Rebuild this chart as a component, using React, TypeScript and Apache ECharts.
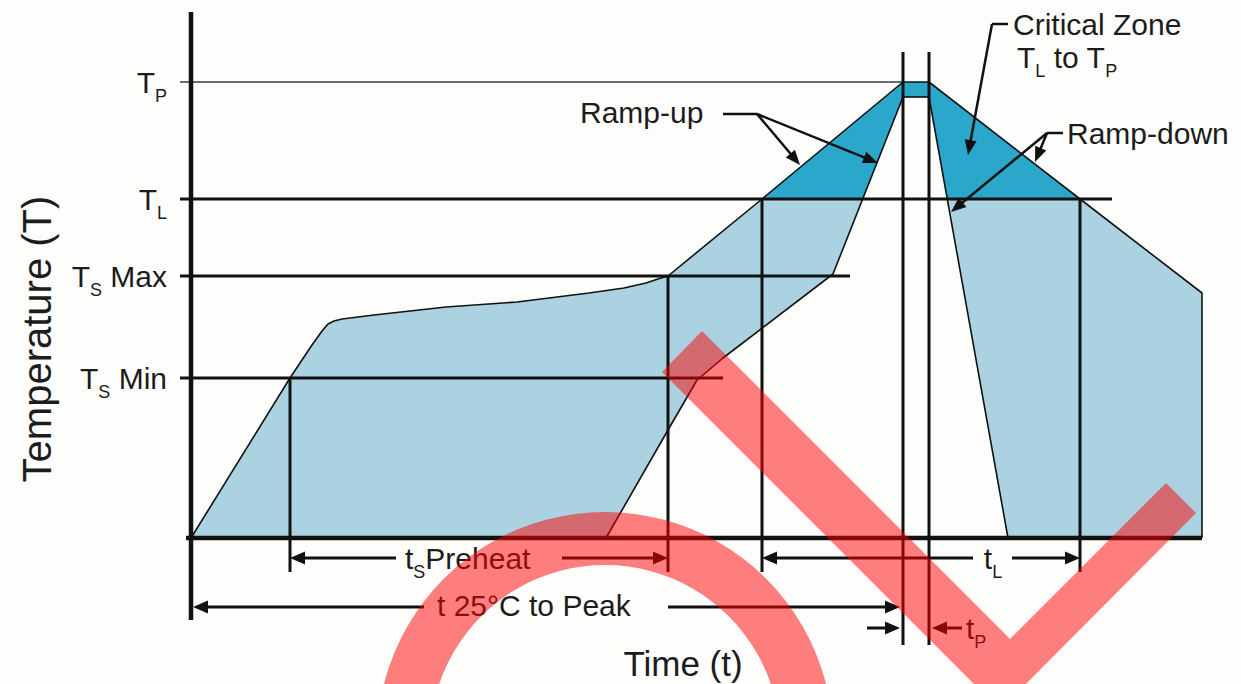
import React, { useEffect, useRef } from "react";
import * as echarts from "echarts";

const FONT = '"Liberation Sans", Arial, Helvetica, sans-serif';
const INK = "#111111";
const TEXT = "#1c1c1c";
const LIGHT = "#abd2e0";
const DARK = "#2aa7cb";
const RED = "rgba(255, 0, 0, 0.5)";
const BG = "#fdfdfb";

// ---------- data: x = time units from the start, y = temperature units above the base line ----------
const levelValues = [456, 339, 262, 160]; // T_P, T_L, T_S max, T_S min
const levelLabels = ["{m|T}{s|P}", "{m|T}{s|L}", "{m|T}{s|S}{m| Max}", "{m|T}{s|S}{m| Min}"];
const levelLineStart = -11;
const levelLineEnds = [712, 921, 659, 532];

const outerProfile = [
  [0, 0], [99, 160], [121, 193], [131, 207], [137, 214], [143, 217], [151, 219], [183, 223],
  [255, 231], [326, 236], [398, 245], [433, 250], [455, 255], [467, 259], [477, 262],
  [571, 339], [712, 456], [738, 456], [889, 339], [1011, 245], [1011, 0],
];
const innerLeftProfile = [[712, 441], [642, 264], [532, 180], [506, 158], [477, 108], [415, 0]];
const innerRightProfile = [[738, 441], [817, 0]];
const peakInnerEdge = [[712, 441], [738, 441]];
const criticalZone = [
  [571, 339], [712, 456], [738, 456], [889, 339], [756, 339], [738, 441], [712, 441], [672, 339],
];

const phaseMarkers = [[99, 160], [477, 262], [571, 339], [889, 339]]; // [time, top temperature]
const phaseMarkerBottom = -34;
const peakMarkers = [712, 738];
const peakMarkerTop = 486;
const peakMarkerBottom = -107;

const temperatureAxisLine = [0, 526, 0, -82];
const timeAxisLine = [-5, 0, 1011, 0];

// [fromTime, fromTemp, toTime, toTemp]  (arrow head at "to")
const dimensionArrows = [
  [205, -20, 99, -20], [371, -20, 477, -20],
  [782, -20, 571, -20], [821, -20, 889, -20],
  [233, -69, 2, -69], [477, -69, 709, -69],
  [676, -90, 709, -90], [771, -90, 741, -90],
];
const leaderLines = [[532, 424, 566, 424], [817, 514, 801, 514], [872, 405, 856, 405]];
const leaderArrows = [
  [566, 424, 609, 373], [566, 424, 687, 375],
  [801, 514, 777, 383],
  [856, 405, 844, 376], [856, 405, 760, 326],
];

const RICH = {
  m: { fontSize: 30, lineHeight: 30, fontFamily: FONT, color: TEXT, fill: TEXT },
  s: { fontSize: 18, lineHeight: 46, verticalAlign: "bottom", fontFamily: FONT, color: TEXT, fill: TEXT },
};

function polygonSeries(points: number[][], color: string, z: number) {
  return {
    type: "custom",
    data: points,
    clip: false,
    silent: true,
    z,
    encode: { x: 0, y: 1 },
    renderItem: (params: any, api: any) => {
      if (params.dataIndex !== 0) return null;
      return {
        type: "polygon",
        shape: { points: points.map((p) => api.coord(p)) },
        style: { fill: color },
      };
    },
  };
}

function outlineSeries(points: number[][], width: number, z: number) {
  return {
    type: "line",
    data: points,
    clip: false,
    silent: true,
    symbol: "none",
    z,
    lineStyle: { color: INK, width },
  };
}

function segmentSeries(data: number[][], width: (i: number) => number, color: (i: number) => string, head: number[] | null, z: number) {
  return {
    type: "custom",
    data,
    clip: false,
    silent: true,
    z,
    encode: { x: [0, 2], y: [1, 3] },
    renderItem: (params: any, api: any) => {
      const a = api.coord([api.value(0), api.value(1)]);
      const b = api.coord([api.value(2), api.value(3)]);
      const lw = width(params.dataIndex);
      const col = color(params.dataIndex);
      if (!head) {
        return {
          type: "line",
          shape: { x1: a[0], y1: a[1], x2: b[0], y2: b[1] },
          style: { stroke: col, lineWidth: lw },
        };
      }
      const dx = b[0] - a[0];
      const dy = b[1] - a[1];
      const len = Math.sqrt(dx * dx + dy * dy) || 1;
      const ux = dx / len;
      const uy = dy / len;
      const [hl, hw] = head;
      const bx = b[0] - ux * hl;
      const by = b[1] - uy * hl;
      return {
        type: "group",
        children: [
          {
            type: "line",
            shape: { x1: a[0], y1: a[1], x2: bx + ux * 2, y2: by + uy * 2 },
            style: { stroke: col, lineWidth: lw },
          },
          {
            type: "polygon",
            shape: {
              points: [
                [b[0], b[1]],
                [bx - uy * hw, by + ux * hw],
                [bx + uy * hw, by - ux * hw],
              ],
            },
            style: { fill: col },
          },
        ],
      };
    },
  };
}

function label(x: number, y: number, text: string, extra: any = {}) {
  return {
    type: "text",
    x,
    y,
    silent: true,
    z: 50,
    style: {
      text,
      fill: TEXT,
      fontSize: 30,
      fontFamily: FONT,
      align: "left",
      verticalAlign: "middle",
      rich: RICH,
      ...extra,
    },
  };
}

export default function App() {
  const ref = useRef<HTMLDivElement>(null);

  useEffect(() => {
    if (!ref.current) return;
    const chart = echarts.init(ref.current, undefined, { renderer: "svg" });

    const lightRegion = [...outerProfile, ...innerRightProfile.slice().reverse(), ...innerLeftProfile];
    const levelSegments = levelValues.map((v, i) => [levelLineStart, v, levelLineEnds[i], v]);
    const markerSegments = [
      ...phaseMarkers.map(([t, top]) => [t, top, t, phaseMarkerBottom]),
      ...peakMarkers.map((t) => [t, peakMarkerTop, t, peakMarkerBottom]),
    ];

    chart.setOption({
      animation: false,
      backgroundColor: BG,
      grid: { left: 191, right: 39, top: 12, bottom: 146, containLabel: false, outerBoundsMode: "none" },
      xAxis: {
        type: "value",
        min: 0,
        max: 1011,
        show: false,
      },
      yAxis: {
        type: "value",
        min: 0,
        max: 526,
        axisLine: { show: false },
        axisTick: { show: false },
        splitLine: { show: false },
        axisLabel: {
          customValues: levelValues,
          margin: 24,
          formatter: (v: number) => {
            const i = levelValues.indexOf(v);
            return i >= 0 ? levelLabels[i] : "";
          },
          rich: RICH,
          color: TEXT,
          fontFamily: FONT,
          fontSize: 30,
        },
      },
      series: [
        polygonSeries(lightRegion, LIGHT, 1),
        polygonSeries(criticalZone, DARK, 2),
        outlineSeries(outerProfile, 1.6, 3),
        outlineSeries(innerLeftProfile, 1.6, 3),
        outlineSeries(innerRightProfile, 1.6, 3),
        outlineSeries(peakInnerEdge, 1.6, 3),
        segmentSeries(levelSegments, (i) => (i === 0 ? 1.6 : 3), (i) => (i === 0 ? "#3a3a3a" : INK), null, 4),
        segmentSeries(markerSegments, () => 3, () => INK, null, 5),
        segmentSeries([temperatureAxisLine, timeAxisLine], () => 4.5, () => INK, null, 6),
        segmentSeries(dimensionArrows, () => 3, () => INK, [15, 6.5], 7),
        segmentSeries(leaderLines, () => 2.5, () => INK, null, 7),
        segmentSeries(leaderArrows, () => 2.5, () => INK, [15, 6], 7),
      ],
      graphic: [
        label(580, 112, "Ramp-up"),
        label(1013, 24, "Critical Zone"),
        label(1017, 57, "{m|T}{s|L}{m| to T}{s|P}"),
        label(1067, 133, "Ramp-down"),
        label(405, 558, "{m|t}{s|S}{m|Preheat}"),
        label(993, 558, "{m|t}{s|L}", { align: "center" }),
        label(437, 605, "t 25°C to Peak"),
        label(966, 628, "{m|t}{s|P}"),
        label(683, 663, "Time (t)", { align: "center", fontSize: 35 }),
        {
          type: "text",
          x: 37,
          y: 339,
          rotation: Math.PI / 2,
          silent: true,
          z: 50,
          style: {
            text: "Temperature (T)",
            fill: TEXT,
            fontSize: 40,
            fontFamily: FONT,
            align: "center",
            verticalAlign: "middle",
          },
        },
        {
          type: "ring",
          silent: true,
          z: 100,
          shape: { cx: 605, cy: 740, r: 228, r0: 175 },
          style: { fill: RED },
        },
        {
          type: "polygon",
          silent: true,
          z: 100,
          shape: {
            points: [[702, 331], [1010, 639], [1166, 483], [1196, 513], [1000, 710], [662, 372]],
          },
          style: { fill: RED },
        },
      ],
    });

    return () => chart.dispose();
  }, []);

  return (
    <div
      ref={ref}
      style={{ position: "fixed", left: 0, top: 0, width: 1241, height: 684, background: BG }}
    />
  );
}
